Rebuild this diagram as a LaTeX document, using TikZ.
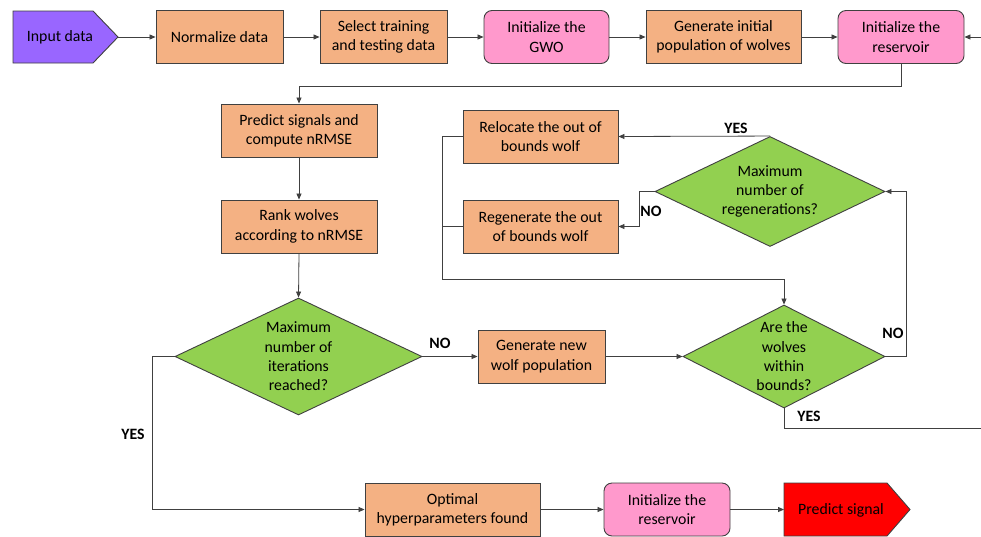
\documentclass[tikz,border=0pt]{standalone}
\usepackage{fontspec}
\setmainfont{Carlito}
\usetikzlibrary{shapes.geometric,arrows.meta}
\definecolor{cOrange}{HTML}{F4B183}
\definecolor{cPink}{HTML}{FF99CC}
\definecolor{cPurple}{HTML}{9966FF}
\definecolor{cGreen}{HTML}{92D050}
\definecolor{cRed}{HTML}{FF0000}
\definecolor{edge}{HTML}{404040}
\tikzset{
  txt/.style={font=\fontsize{15.8}{19.3}\selectfont},
  box/.style={txt, draw=edge, line width=0.9pt, fill=cOrange, align=center, minimum height=53, inner sep=2pt},
  rbox/.style={box, fill=cPink, rounded corners=8pt},
  dec/.style={draw=edge, line width=0.9pt, fill=cGreen, diamond, inner sep=0pt},
  conn/.style={draw=edge, line width=0.8pt},
  arr/.style={conn, -{Triangle[length=6pt,width=5pt]}},
  lab/.style={font=\fontsize{15.8}{19.3}\selectfont\bfseries},
}
\begin{document}
\begin{tikzpicture}[x=1pt,y=-1pt]
\fill[white] (0,0) rectangle (981,536);
\useasboundingbox (0,0) rectangle (981,536);

% top row
\draw[draw=edge, line width=0.9pt, fill=cPurple] (13,11) -- (93,11) -- (118,37) -- (93,63) -- (13,63) -- cycle;
\node[txt] (inp) at (60,37) {Input data};
\coordinate (inptip) at (118,37);
\node[box, minimum width=127] (norm) at (219.5,37) {Normalize data};
\node[box, minimum width=127] (sel) at (383.5,37) {Select training\\and testing data};
\node[rbox, minimum width=125] (gwo) at (546.5,37) {Initialize the\\GWO};
\node[box, minimum width=155] (gen) at (723.5,37) {Generate initial\\population of wolves};
\node[rbox, minimum width=126] (res) at (901,37) {Initialize the\\reservoir};
\coordinate (edgeT) at (981,37);

% left column
\node[box, minimum width=156] (pred) at (299,130.5) {Predict signals and\\compute nRMSE};
\node[box, minimum width=156] (rank) at (299,226.5) {Rank wolves\\according to nRMSE};

% diamonds
\node[dec, minimum width=247, minimum height=117,
  label={[txt, align=center]center:{Maximum\\number of\\iterations\\reached?}}] (it) at (298.5,356.5) {};
\node[dec, minimum width=230, minimum height=110,
  label={[txt, align=center]center:{Maximum\\number of\\regenerations?}}] (rg) at (770,191.5) {};
\node[dec, minimum width=202, minimum height=103,
  label={[txt, align=center]center:{Are the\\wolves\\within\\bounds?}}] (wb) at (784,356.5) {};

% right boxes
\node[box, minimum width=155] (reloc) at (540.5,136.5) {Relocate the out of\\bounds wolf};
\node[box, minimum width=155] (regen) at (540.5,226.5) {Regenerate the out\\of bounds wolf};
\node[box, minimum width=127] (newpop) at (541.5,356.5) {Generate new\\wolf population};

% bottom row
\node[box, minimum width=175] (opt) at (452.5,509.5) {Optimal\\hyperparameters found};
\node[rbox, minimum width=126] (res2) at (667,509.5) {Initialize the\\reservoir};
\draw[draw=edge, line width=0.9pt, fill=cRed] (784,483) -- (887,483) -- (910,509.5) -- (887,536) -- (784,536) -- cycle;
\node[txt] (outp) at (841,510) {Predict signal};
\coordinate (outtail) at (784,509.5);
\coordinate (edgeR) at (981,428);
\coordinate (j1) at (442,279);

% connectors
\draw[arr] (inptip) -- (norm.west);
\draw[arr] (norm.east) -- (sel.west);
\draw[arr] (sel.east) -- (gwo.west);
\draw[arr] (gwo.east) -- (gen.west);
\draw[arr] (gen.east) -- (res.west);
\draw[arr] (edgeT) -- (res.east);
\draw[arr] (res.south) -- ++(0,22) -| (pred.north);
\draw[arr] (pred.south) -- (rank.north);
\draw[arr] (rank.south) -- (it.north);
\draw[arr] (it.east) -- (newpop.west);
\draw[arr] (newpop.east) -- (wb.west);
\draw[arr] (it.west) -- ++(-22,0) |- (opt.west);
\draw[arr] (opt.east) -- (res2.west);
\draw[arr] (res2.east) -- (outtail);
\draw[arr] (wb.east) -- ++(21,0) |- (rg.east);
\draw[conn] (wb.south) |- (edgeR);
\draw[arr] (rg.north) -- (reloc.east);
\draw[arr] (rg.west) -- ++(-15,0) |- (regen.east);
\draw[arr] (reloc.west) -| (j1) -| (wb.north);
\draw[conn] (regen.west) -- (regen.west -| j1);

% labels
\node[lab] (l1) at (736,128) {YES};
\node[lab] (l2) at (651,211) {NO};
\node[lab] (l3) at (440,343) {NO};
\node[lab] (l4) at (133,434) {YES};
\node[lab] (l5) at (893,333) {NO};
\node[lab] (l6) at (809,416) {YES};
\end{tikzpicture}
\end{document}
